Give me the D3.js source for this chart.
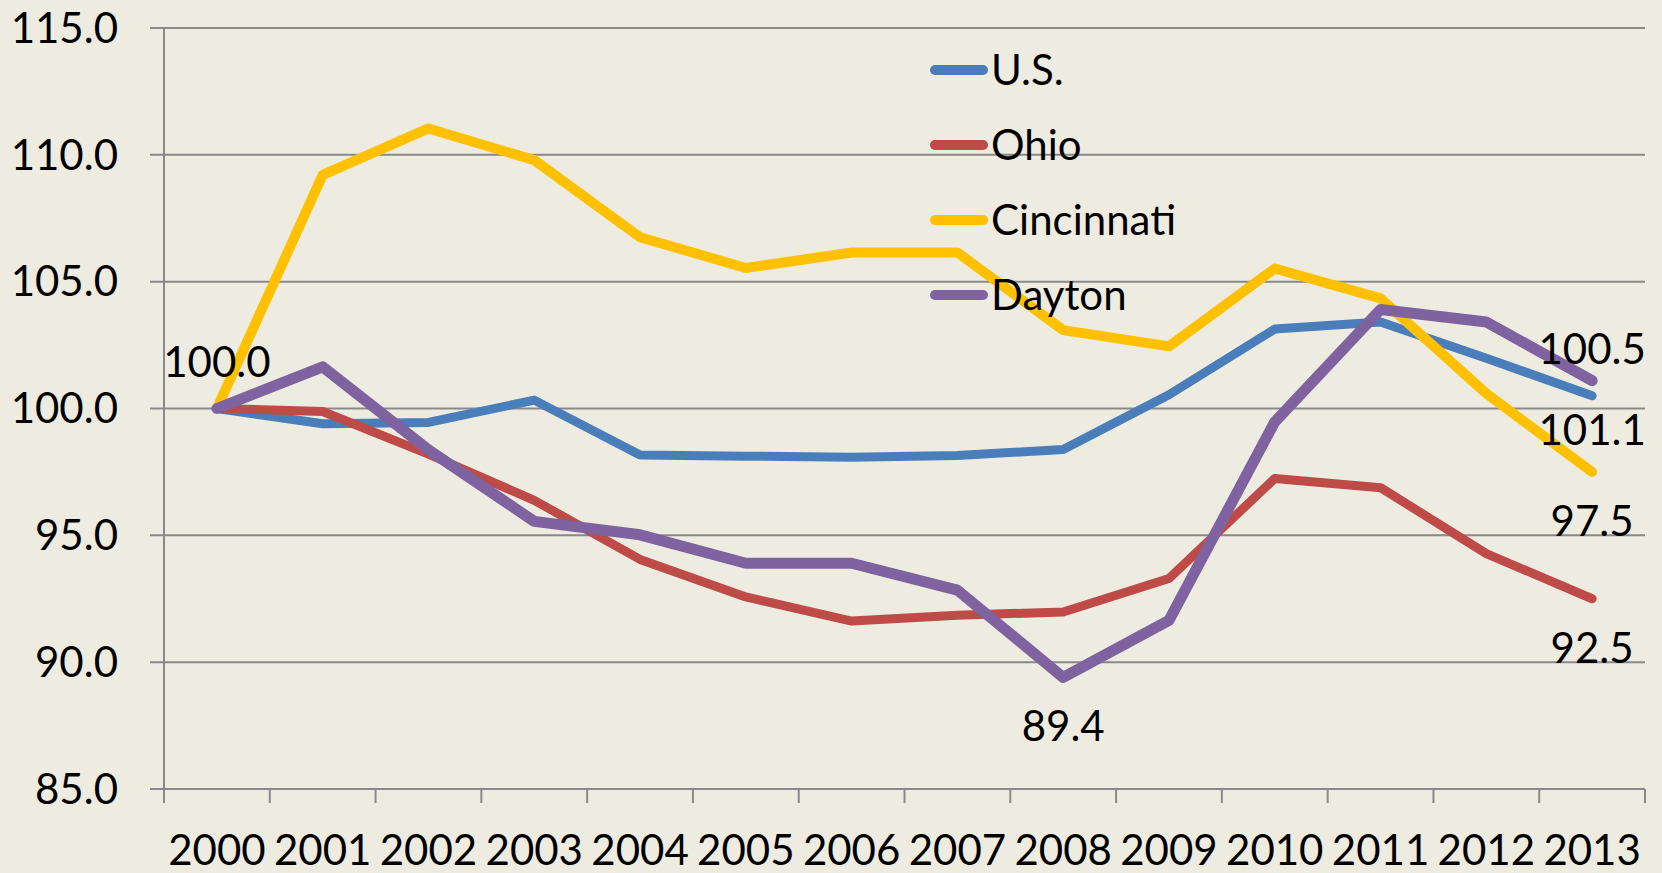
<!DOCTYPE html>
<html><head><meta charset="utf-8">
<script src="https://cdn.jsdelivr.net/npm/d3@7"></script>
<style>
html,body{margin:0;padding:0;background:#EEECE1;}
svg{display:block;}
text{font-family:Lato,"Open Sans",sans-serif;fill:#000;}
</style></head><body>
<svg id="c" width="1662" height="873"></svg>
<script>
const years = ["2000","2001","2002","2003","2004","2005","2006","2007","2008","2009","2010","2011","2012","2013"];
const seriesNames = ["U.S.","Ohio","Cincinnati","Dayton"];
const usValues   = [100.0, 99.4, 99.45, 100.33, 98.17, 98.12, 98.08, 98.15, 98.38, 100.54, 103.13, 103.41, 101.98, 100.5];
const ohioValues = [100.0, 99.88, 98.2, 96.38, 94.05, 92.57, 91.62, 91.85, 91.98, 93.3, 97.24, 96.88, 94.28, 92.5];
const cinValues  = [100.0, 109.21, 111.04, 109.79, 106.75, 105.54, 106.15, 106.15, 103.09, 102.45, 105.52, 104.34, 100.59, 97.5];
const dayValues  = [100.0, 101.64, 98.37, 95.55, 95.02, 93.9, 93.9, 92.84, 89.4, 91.65, 99.47, 103.9, 103.41, 101.1];
const yTicks = [85, 90, 95, 100, 105, 110, 115];
// data labels: series index, year, text, placement
const dataLabels = [
  {s:0, year:"2000", text:"100.0", place:"above"},
  {s:0, year:"2013", text:"100.5", place:"above"},
  {s:3, year:"2008", text:"89.4",  place:"below"},
  {s:3, year:"2013", text:"101.1", place:"below"},
  {s:2, year:"2013", text:"97.5",  place:"below"},
  {s:1, year:"2013", text:"92.5",  place:"below"}
];
const allValues = [usValues, ohioValues, cinValues, dayValues];
const colors = ["#4A7EBB","#BE4B48","#FFC000","#7F63A1"];
const widths = [9, 9, 10, 11];
const fs = 42;

const svg = d3.select("#c");
const pl = 164, pr = 1645, pt = 28, pb = 789;
const x = d3.scaleBand().domain(years).range([pl, pr]);
const y = d3.scaleLinear().domain([85, 115]).range([pb, pt]);
const cx = d => x(d) + x.bandwidth()/2;
const gridColor = "#898989";

// gridlines with left ticks
svg.append("g").selectAll("line").data(yTicks).join("line")
  .attr("x1", 150).attr("x2", pr)
  .attr("y1", d => y(d)).attr("y2", d => y(d))
  .attr("stroke", gridColor).attr("stroke-width", 2);
svg.append("g").selectAll("text").data(yTicks).join("text")
  .attr("x", 118).attr("y", d => y(d)).attr("dy", "0.35em")
  .attr("text-anchor", "end").attr("font-size", fs)
  .text(d => d3.format(".1f")(d));

// vertical axis line
svg.append("line").attr("x1", pl).attr("x2", pl).attr("y1", pt).attr("y2", pb + 14)
  .attr("stroke", gridColor).attr("stroke-width", 2);
// x ticks at band boundaries
const bounds = years.map(d => x(d)).concat([pr]);
svg.append("g").selectAll("line").data(bounds.slice(1)).join("line")
  .attr("x1", d => d).attr("x2", d => d).attr("y1", pb).attr("y2", pb + 14)
  .attr("stroke", gridColor).attr("stroke-width", 2);
svg.append("g").selectAll("text").data(years).join("text")
  .attr("x", d => cx(d)).attr("y", 865).attr("text-anchor", "middle").attr("font-size", fs)
  .text(d => d);

// lines
const line = d3.line().x((d, i) => cx(years[i])).y(d => y(d));
allValues.forEach((vals, i) => {
  svg.append("path").datum(vals).attr("d", line)
    .attr("fill", "none").attr("stroke", colors[i]).attr("stroke-width", widths[i])
    .attr("stroke-linejoin", "round").attr("stroke-linecap", "round");
});

// data labels
svg.append("g").selectAll("text").data(dataLabels).join("text")
  .attr("x", d => cx(d.year))
  .attr("y", d => y(allValues[d.s][years.indexOf(d.year)]) + (d.place === "above" ? -32 : 64))
  .attr("text-anchor", "middle").attr("font-size", fs)
  .text(d => d.text);

// legend
const lg = svg.append("g");
seriesNames.forEach((n, i) => {
  const ly = 70 + i * 75;
  lg.append("line").attr("x1", 935).attr("x2", 983).attr("y1", ly).attr("y2", ly)
    .attr("stroke", colors[i]).attr("stroke-width", 10).attr("stroke-linecap", "round");
  lg.append("text").attr("x", 991).attr("y", ly + 15).attr("font-size", fs).text(n);
});
</script>
</body></html>
